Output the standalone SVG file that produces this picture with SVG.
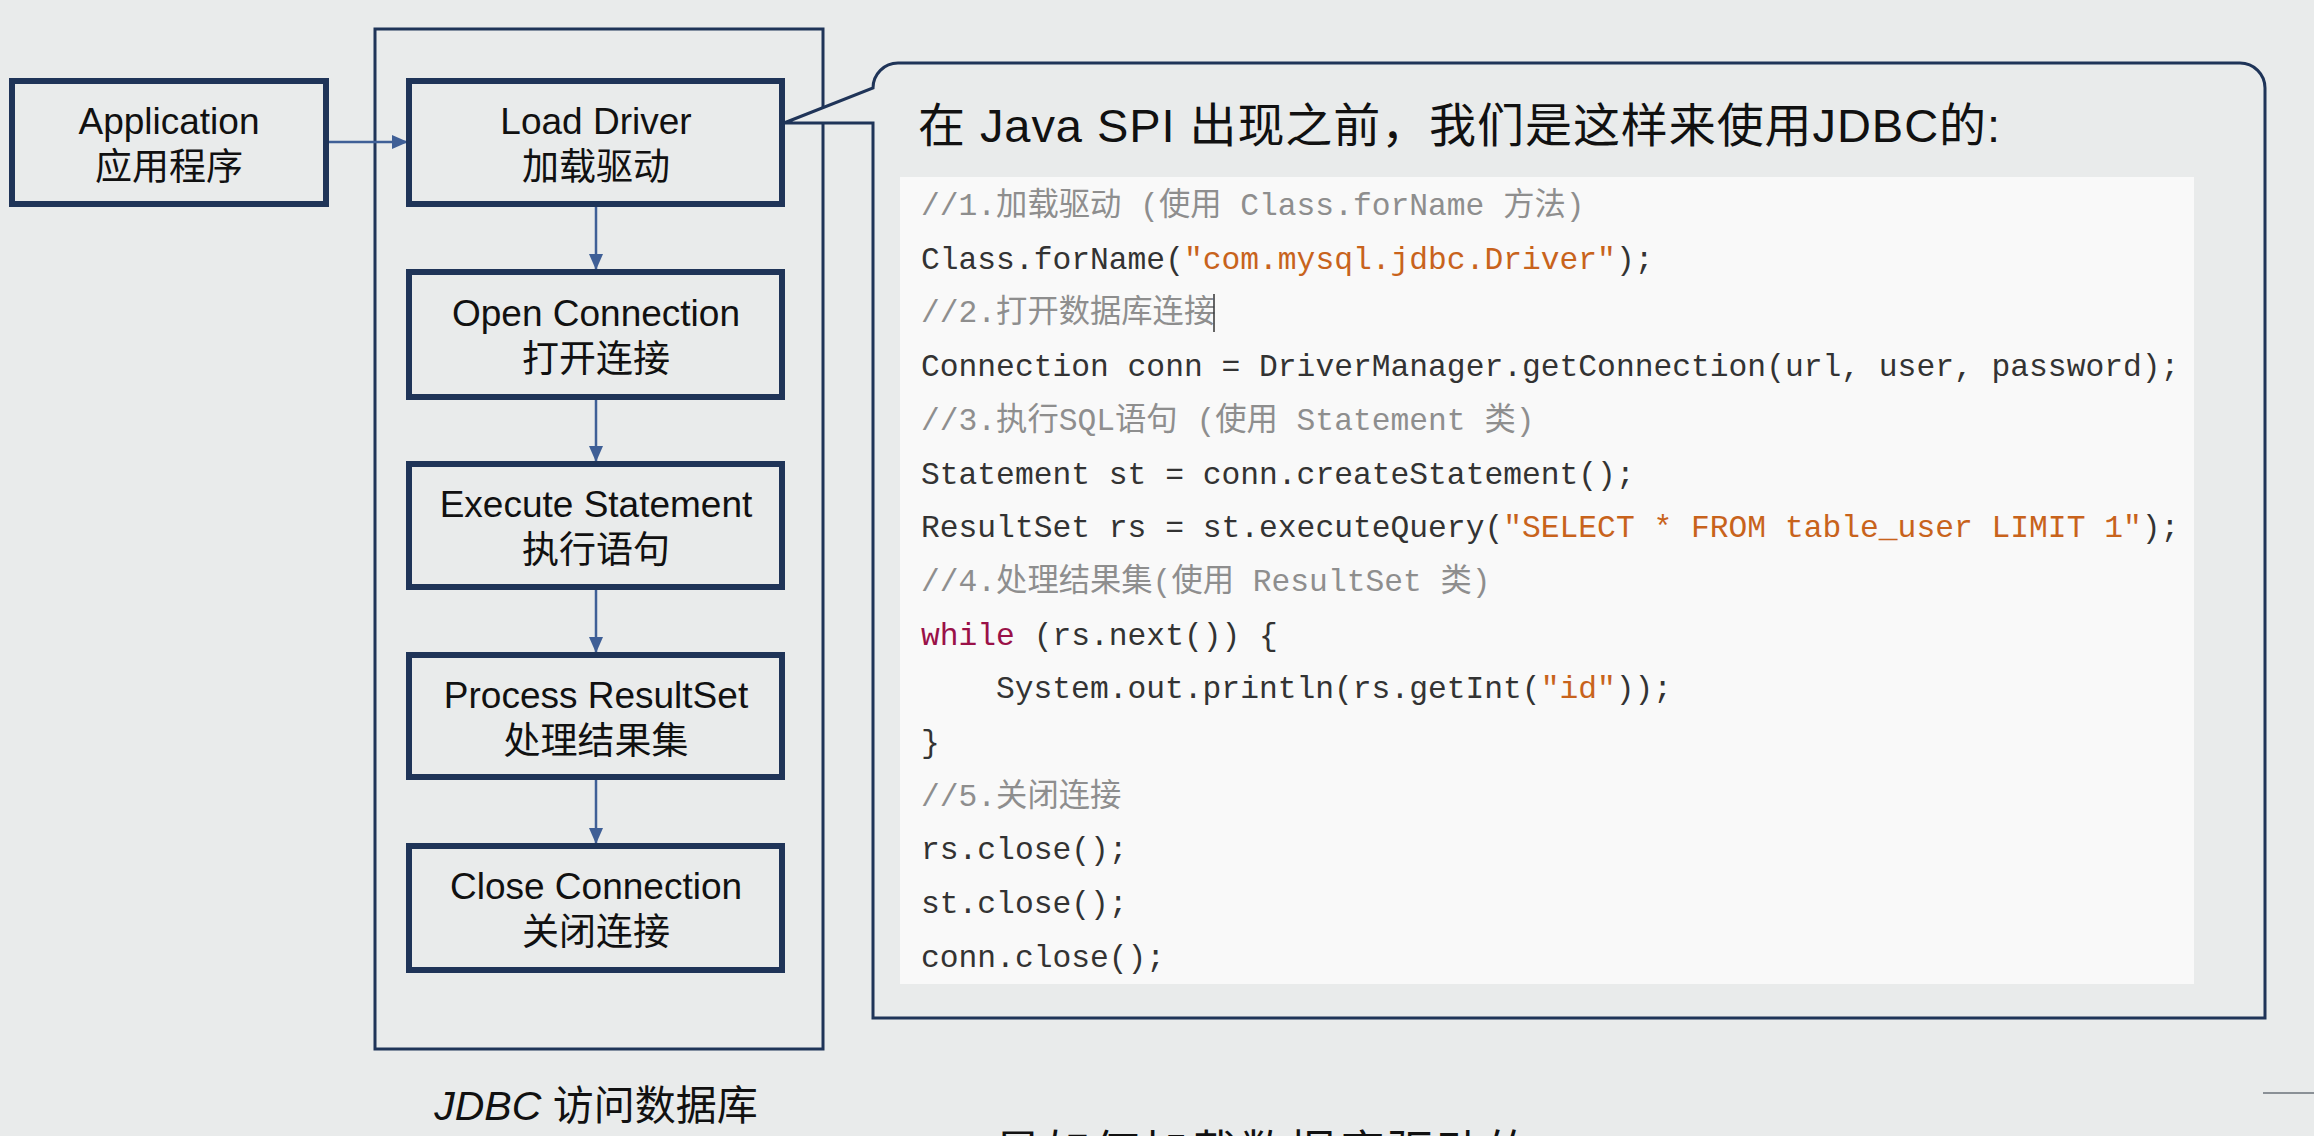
<svg xmlns="http://www.w3.org/2000/svg" width="2314" height="1136" viewBox="0 0 2314 1136">
<defs>
<style>
.bg{fill:#e9ebeb}
.node{fill:#e9ebeb;stroke:#1f3458;stroke-width:6}
.frame{fill:none;stroke:#1f3458;stroke-width:3}
.lbl{font-family:"Liberation Sans","Noto Sans CJK SC",sans-serif;font-size:37px;fill:#111;text-anchor:middle}
.conn{stroke:#3f5f96;stroke-width:2.5;fill:none}
.title{font-family:"Liberation Sans","Noto Sans CJK SC",sans-serif;font-size:47px;fill:#111}
.code{font-family:"Liberation Mono","Noto Sans CJK SC",monospace;font-size:31.3px;fill:#333}
.cm{fill:#8e8e8e}
.str{fill:#c8631c}
.kw{fill:#9a1148}
</style>
<marker id="ah" markerUnits="userSpaceOnUse" markerWidth="18" markerHeight="16" refX="16" refY="7" orient="auto">
<path d="M0,0 L16,7 L0,14 z" fill="#3f5f96"/>
</marker>
</defs>
<rect class="bg" x="0" y="0" width="2314" height="1136"/>

<g id="jdbc-frame">
<rect class="frame" x="375" y="29" width="448" height="1020"/>
<text x="596" y="1120" font-family="'Liberation Sans','Noto Sans CJK SC',sans-serif" font-size="41" fill="#111" text-anchor="middle"><tspan font-style="italic">JDBC</tspan> 访问数据库</text>
</g>

<g id="connectors">
<line class="conn" x1="326" y1="142" x2="408" y2="142" marker-end="url(#ah)"/>
<line class="conn" x1="596" y1="207" x2="596" y2="270" marker-end="url(#ah)"/>
<line class="conn" x1="596" y1="400" x2="596" y2="462" marker-end="url(#ah)"/>
<line class="conn" x1="596" y1="590" x2="596" y2="653" marker-end="url(#ah)"/>
<line class="conn" x1="596" y1="780" x2="596" y2="844" marker-end="url(#ah)"/>
</g>

<g id="application">
<rect class="node" x="12" y="81" width="314" height="123"/>
<text class="lbl" x="169" y="134">Application</text>
<text class="lbl" x="169" y="180">应用程序</text>
</g>

<g id="load-driver">
<rect class="node" x="409" y="81" width="373" height="123"/>
<text class="lbl" x="596" y="134">Load Driver</text>
<text class="lbl" x="596" y="180">加载驱动</text>
</g>

<g id="open-connection">
<rect class="node" x="409" y="272" width="373" height="125"/>
<text class="lbl" x="596" y="326">Open Connection</text>
<text class="lbl" x="596" y="372">打开连接</text>
</g>

<g id="execute-statement">
<rect class="node" x="409" y="464" width="373" height="123"/>
<text class="lbl" x="596" y="517">Execute Statement</text>
<text class="lbl" x="596" y="563">执行语句</text>
</g>

<g id="process-resultset">
<rect class="node" x="409" y="655" width="373" height="122"/>
<text class="lbl" x="596" y="708">Process ResultSet</text>
<text class="lbl" x="596" y="754">处理结果集</text>
</g>

<g id="close-connection">
<rect class="node" x="409" y="846" width="373" height="124"/>
<text class="lbl" x="596" y="899">Close Connection</text>
<text class="lbl" x="596" y="945">关闭连接</text>
</g>

<g id="callout">
<path d="M898,63 H2240 A25,25 0 0 1 2265,88 V1018 H873 V123 H784 L873,88 A25,25 0 0 1 898,63 Z" fill="#e9ebeb" stroke="#1f3458" stroke-width="3"/>
<text class="title" x="918" y="142" textLength="1082">在 Java SPI 出现之前，我们是这样来使用JDBC的:</text>
<rect x="900" y="177" width="1294" height="807" fill="#f9f9f9"/>
<g class="code">
<text x="921" y="215"><tspan class="cm">//1.加载驱动 (使用 Class.forName 方法)</tspan></text>
<text x="921" y="269">Class.forName(<tspan class="str">"com.mysql.jdbc.Driver"</tspan>);</text>
<text x="921" y="322"><tspan class="cm">//2.打开数据库连接</tspan></text>
<text x="921" y="376">Connection conn = DriverManager.getConnection(url, user, password);</text>
<text x="921" y="430"><tspan class="cm">//3.执行SQL语句 (使用 Statement 类)</tspan></text>
<text x="921" y="484">Statement st = conn.createStatement();</text>
<text x="921" y="537">ResultSet rs = st.executeQuery(<tspan class="str">"SELECT * FROM table_user LIMIT 1"</tspan>);</text>
<text x="921" y="591"><tspan class="cm">//4.处理结果集(使用 ResultSet 类)</tspan></text>
<text x="921" y="645"><tspan class="kw">while</tspan> (rs.next()) {</text>
<text x="996" y="698">System.out.println(rs.getInt(<tspan class="str">"id"</tspan>));</text>
<text x="921" y="752">}</text>
<text x="921" y="806"><tspan class="cm">//5.关闭连接</tspan></text>
<text x="921" y="859">rs.close();</text>
<text x="921" y="913">st.close();</text>
<text x="921" y="967">conn.close();</text>
</g>
<line x1="1214" y1="294" x2="1214" y2="332" stroke="#333" stroke-width="1.5"/>
</g>

<g id="page-edge">
<line x1="2263" y1="1093" x2="2314" y2="1093" stroke="#8a9096" stroke-width="2"/>
<text x="995" y="1168" font-family="'Liberation Sans','Noto Sans CJK SC',sans-serif" font-size="46" letter-spacing="3" fill="#111">是如何加载数据库驱动的</text>
</g>
</svg>
